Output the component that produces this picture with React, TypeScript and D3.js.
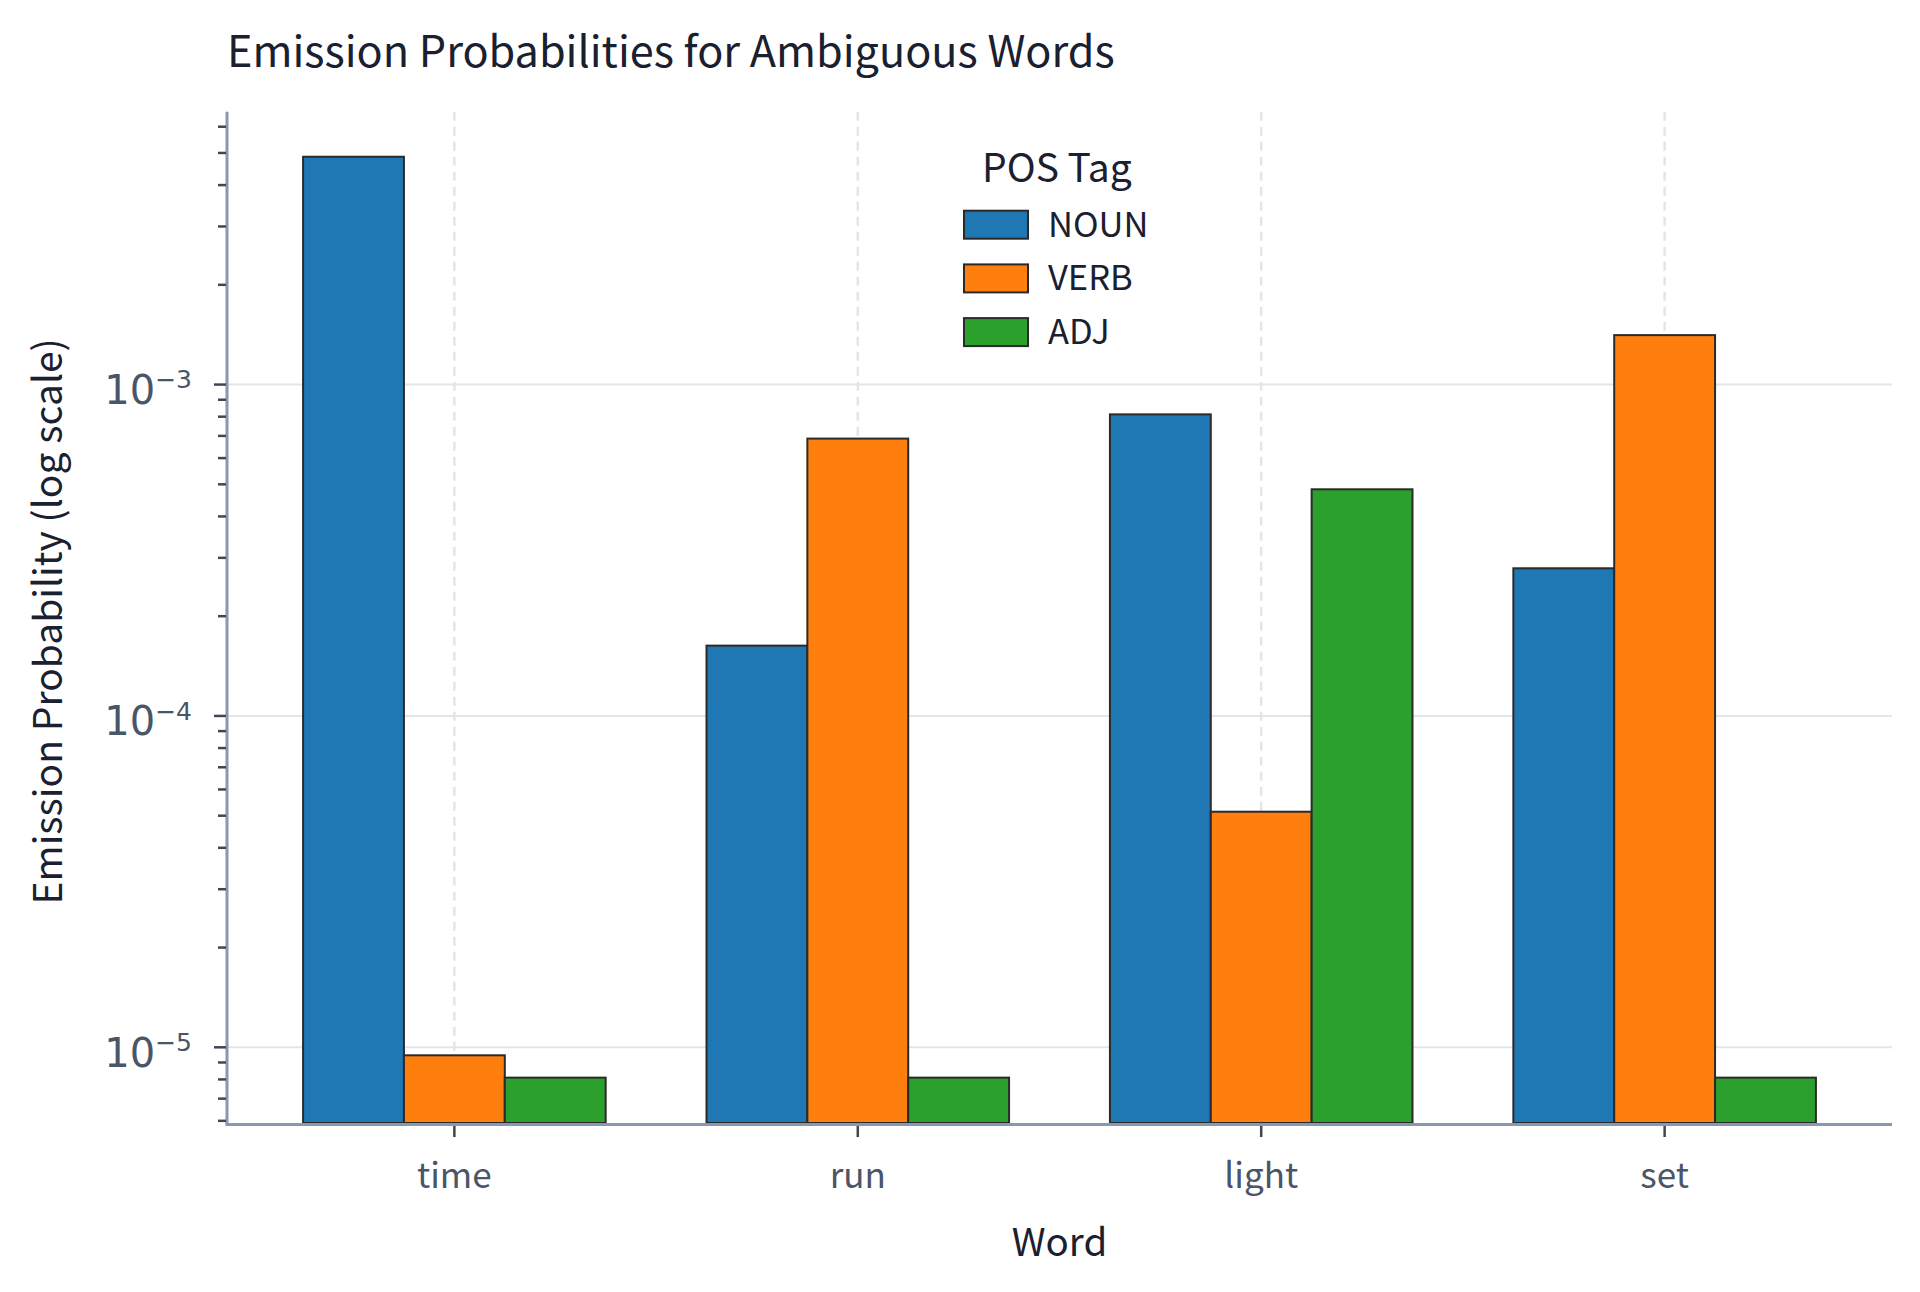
import React, { useEffect } from "react";
import * as d3 from "d3";

// ---- data ----
const words = ["time", "run", "light", "set"];
const tags = ["NOUN", "VERB", "ADJ"];
const nounValues = [4.87e-3, 1.63e-4, 8.13e-4, 2.79e-4];
const verbValues = [9.46e-6, 6.87e-4, 5.14e-5, 1.41e-3];
const adjValues = [8.1e-6, 8.1e-6, 4.83e-4, 8.1e-6];
const tagColors = ["#1f77b4", "#ff7f0e", "#2ca02c"];
const yDomain = [5.91e-6, 6.66e-3];
const majorTicks = [1e-5, 1e-4, 1e-3];
const majorExponents = ["−5", "−4", "−3"];

const title = "Emission Probabilities for Ambiguous Words";
const xTitle = "Word";
const yTitle = "Emission Probability (log scale)";
const legendTitle = "POS Tag";

const FONT = "'Noto Sans CJK SC', 'Noto Sans', sans-serif";
const NUM_FONT = "'DejaVu Sans', sans-serif";

export default function App() {
  useEffect(() => {
    document.body.style.margin = "0";
  }, []);

  const W = 1920;
  const H = 1292;
  const left = 227;
  const right = 1892;
  const top = 111.7;
  const bottom = 1123;

  const x = d3.scaleBand<string>().domain(words).range([left, right]).paddingInner(0).paddingOuter(0.0636);
  const y = d3.scaleLog().domain(yDomain).range([bottom, top]);
  const step = x.step();
  const barW = step * 0.25;
  const sub = d3.scaleBand<string>().domain(tags).range([0, barW * 3]);

  const series = [nounValues, verbValues, adjValues];
  const center = (w: string) => (x(w) as number) + x.bandwidth() / 2;

  // minor ticks 2..9 within domain
  const minorTicks: number[] = [];
  for (let e = -6; e <= -3; e++) {
    for (let m = 2; m <= 9; m++) {
      const v = m * Math.pow(10, e);
      if (v >= yDomain[0] && v <= yDomain[1]) minorTicks.push(v);
    }
  }

  const axisColor = "#8898b0";
  const tickColor = "#3f4654";
  const tickLabelColor = "#4a5568";
  const gridColor = "#e2e6eb";
  const textDark = "#1a2030";

  return (
    <svg width={W} height={H} style={{ display: "block", background: "#fff" }} fontFamily={FONT}>
      <rect x={0} y={0} width={W} height={H} fill="#fff" />
      {/* horizontal grid */}
      {majorTicks.map((t) => (
        <line key={"hg" + t} x1={left} x2={right} y1={y(t)} y2={y(t)} stroke={gridColor} strokeWidth={2} />
      ))}
      {/* vertical dashed grid */}
      {words.map((w) => (
        <line key={"vg" + w} x1={center(w)} x2={center(w)} y1={top} y2={bottom} stroke={gridColor} strokeWidth={2.5} strokeDasharray="9,6" />
      ))}

      {/* bars */}
      {series.map((vals, si) =>
        words.map((w, wi) => {
          const x0 = center(w) - (barW * 3) / 2 + (sub(tags[si]) as number);
          const yv = y(vals[wi]);
          return (
            <rect
              key={tags[si] + w}
              x={x0}
              y={yv}
              width={barW}
              height={bottom - yv}
              fill={tagColors[si]}
              stroke="#2a2a2a"
              strokeWidth={2}
            />
          );
        })
      )}

      {/* y axis */}
      <line x1={left} x2={left} y1={top} y2={bottom + 1.5} stroke={axisColor} strokeWidth={3} />
      {minorTicks.map((t) => (
        <line key={"mt" + t} x1={left - 9} x2={left - 1} y1={y(t)} y2={y(t)} stroke={tickColor} strokeWidth={2.5} />
      ))}
      {majorTicks.map((t, i) => (
        <g key={"yt" + t}>
          <line x1={left - 13} x2={left - 1} y1={y(t)} y2={y(t)} stroke={tickColor} strokeWidth={2.5} />
          <text x={192} y={y(t) + 19.4} textAnchor="end" fill={tickLabelColor} fontSize={40} fontFamily={NUM_FONT}>
            <tspan>10</tspan>
            <tspan dy={-15.5} fontSize={25}>{majorExponents[i]}</tspan>
          </text>
        </g>
      ))}

      {/* x axis */}
      <line x1={left - 1.5} x2={right} y1={bottom + 1.5} y2={bottom + 1.5} stroke={axisColor} strokeWidth={3} />
      {words.map((w) => (
        <g key={"xt" + w}>
          <line x1={center(w)} x2={center(w)} y1={bottom + 3} y2={bottom + 14} stroke={tickColor} strokeWidth={2.5} />
          <text x={center(w)} y={1188} textAnchor="middle" fill={tickLabelColor} fontSize={35}>
            {w}
          </text>
        </g>
      ))}

      {/* titles */}
      <text x={227} y={66.7} fill={textDark} fontSize={43.2}>
        {title}
      </text>
      <text x={(left + right) / 2} y={1256} textAnchor="middle" fill={textDark} fontSize={38.5}>
        {xTitle}
      </text>
      <text transform={`translate(62, ${(top + bottom) / 2 + 4}) rotate(-90)`} textAnchor="middle" fill={textDark} fontSize={39}>
        {yTitle}
      </text>

      {/* legend */}
      <text x={982} y={181.7} fill={textDark} fontSize={39}>
        {legendTitle}
      </text>
      {tags.map((t, i) => (
        <g key={"lg" + t} transform={`translate(964, ${210.7 + i * 53.7})`}>
          <rect x={0} y={0} width={64} height={28} fill={tagColors[i]} stroke="#2a2a2a" strokeWidth={2} />
          <text x={84} y={26} fill={textDark} fontSize={34.5}>
            {t}
          </text>
        </g>
      ))}
    </svg>
  );
}
